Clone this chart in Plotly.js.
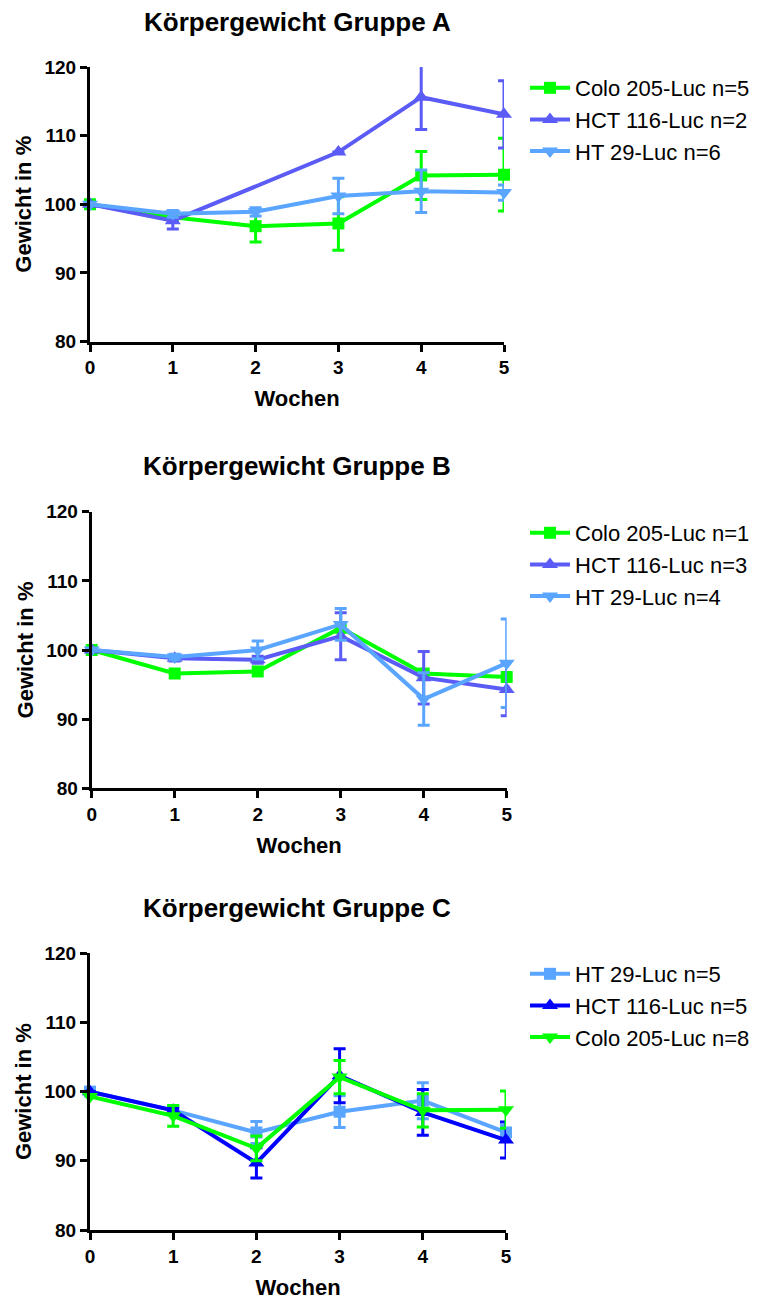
<!DOCTYPE html>
<html>
<head>
<meta charset="utf-8">
<script src="https://cdn.plot.ly/plotly-3.0.1.min.js"></script>
<style>html,body{margin:0;padding:0;background:#fff;}</style>
</head>
<body>
<div id="chart" style="width:765px;height:1300px;"></div>
<script>
const weeks = [0, 1, 2, 3, 4, 5];
const yTicks = [80, 90, 100, 110, 120];

// Gruppe A
const namesA = ['Colo 205-Luc n=5', 'HCT 116-Luc n=2', 'HT 29-Luc n=6'];
const colo205_A = [100, 98.1, 96.8, 97.2, 104.2, 104.3];
const colo205_A_err = [0, 0.5, 2.3, 3.9, 3.5, 5.3];
const hct116_A = [100, 97.6, null, 107.6, 115.6, 113.1];
const hct116_A_err = [0, 1.2, 0, 0, 4.7, 4.9];
const ht29_A = [100, 98.6, 98.9, 101.2, 101.9, 101.7];
const ht29_A_err = [0, 0.5, 0.6, 2.6, 3.1, 1.1];

// Gruppe B
const namesB = ['Colo 205-Luc n=1', 'HCT 116-Luc n=3', 'HT 29-Luc n=4'];
const colo205_B = [100, 96.6, 96.9, 103.2, 96.6, 96.1];
const hct116_B = [100, 98.8, 98.6, 102.0, 96.0, 94.3];
const hct116_B_err = [0, 0.4, 0.5, 3.4, 3.8, 3.8];
const ht29_B = [100, 99.0, 100.0, 103.7, 92.9, 98.1];
const ht29_B_err = [0, 0.4, 1.3, 2.3, 3.8, 6.4];

// Gruppe C
const namesC = ['HT 29-Luc n=5', 'HCT 116-Luc n=5', 'Colo 205-Luc n=8'];
const ht29_C = [100, 97.3, 94.1, 97.1, 98.7, 94.1];
const ht29_C_err = [0, 0.5, 1.6, 2.3, 2.6, 1.0];
const hct116_C = [100, 97.3, 89.7, 102.3, 97.0, 93.0];
const hct116_C_err = [0, 0.3, 2.2, 3.9, 3.3, 2.6];
const colo205_C = [99.3, 96.5, 91.8, 102.1, 97.3, 97.4];
const colo205_C_err = [0, 1.5, 1.8, 2.4, 2.4, 2.7];

const GREEN = '#00ff00', PURPLE = '#5b5bf5', LIGHTBLUE = '#5aa5ff', BLUE = '#0000ff';
const FONT = 'Liberation Sans, Arial, sans-serif';

function tr(y, err, name, color, symbol, ax, legend) {
  const t = {
    x: weeks, y: y, name: name, type: 'scatter', mode: 'lines+markers',
    connectgaps: true, cliponaxis: false,
    line: {color: color, width: 4},
    marker: {color: color, symbol: symbol, size: symbol === 'square' ? 12 : 14},
    xaxis: 'x' + ax, yaxis: 'y' + ax, legend: legend
  };
  if (err) t.error_y = {type: 'data', array: err, visible: true, color: color, thickness: 3, width: 6};
  return t;
}

const data = [
  tr(colo205_A, colo205_A_err, namesA[0], GREEN, 'square', '', 'legend'),
  tr(hct116_A, hct116_A_err, namesA[1], PURPLE, 'triangle-up', '', 'legend'),
  tr(ht29_A, ht29_A_err, namesA[2], LIGHTBLUE, 'triangle-down', '', 'legend'),
  tr(colo205_B, null, namesB[0], GREEN, 'square', '2', 'legend2'),
  tr(hct116_B, hct116_B_err, namesB[1], PURPLE, 'triangle-up', '2', 'legend2'),
  tr(ht29_B, ht29_B_err, namesB[2], LIGHTBLUE, 'triangle-down', '2', 'legend2'),
  tr(ht29_C, ht29_C_err, namesC[0], LIGHTBLUE, 'square', '3', 'legend3'),
  tr(hct116_C, hct116_C_err, namesC[1], BLUE, 'triangle-up', '3', 'legend3'),
  tr(colo205_C, colo205_C_err, namesC[2], GREEN, 'triangle-down', '3', 'legend3')
];

const W = 765, H = 1300;
const ML = 88, MR = 257, PW = W - ML - MR;
function xax(l, r, anchor) {
  return {
    domain: [(l - ML) / PW, (r - ML) / PW], range: [0, 5], anchor: anchor,
    tickmode: 'array', tickvals: weeks, ticktext: weeks.map(String),
    showline: true, linecolor: '#000', linewidth: 3, mirror: false,
    ticks: 'outside', ticklen: 7, tickwidth: 3, tickcolor: '#000',
    showgrid: false, zeroline: false, automargin: false,
    tickfont: {family: FONT, size: 19, color: '#000', weight: 'bold'},
    title: {text: 'Wochen', font: {family: FONT, size: 22, color: '#000', weight: 'bold'}, standoff: 14}
  };
}
function yax(top, bottom, anchor) {
  return {
    domain: [1 - bottom / H, 1 - top / H], range: [80, 120], anchor: anchor,
    tickmode: 'array', tickvals: yTicks,
    showline: true, linecolor: '#000', linewidth: 3,
    ticks: 'outside', ticklen: 7, tickwidth: 3, tickcolor: '#000',
    showgrid: false, zeroline: false, automargin: false,
    tickfont: {family: FONT, size: 19, color: '#000', weight: 'bold'},
    title: {text: 'Gewicht in %', font: {family: FONT, size: 22, color: '#000', weight: 'bold'}, standoff: 7}
  };
}
function leg(top) {
  return {x: (525 - ML) / PW, xanchor: 'left', y: 1 - top / H, yanchor: 'top',
    font: {family: FONT, size: 22, color: '#000'}, bgcolor: 'rgba(0,0,0,0)', borderwidth: 0,
    itemwidth: 40, tracegroupgap: 0};
}
function ttl(text, y) {
  return {text: text, xref: 'paper', yref: 'paper', x: (297 - ML) / PW, y: 1 - y / H,
    xanchor: 'center', yanchor: 'middle', showarrow: false,
    font: {family: FONT, size: 26, color: '#000', weight: 'bold'}};
}

const layout = {
  width: W, height: H,
  margin: {l: ML, r: MR, t: 0, b: 0},
  paper_bgcolor: '#fff', plot_bgcolor: '#fff',
  showlegend: true,
  xaxis: xax(90, 504, 'y'), yaxis: yax(67, 341.5, 'x'),
  xaxis2: xax(91.7, 506.7, 'y2'), yaxis2: yax(511.7, 788.3, 'x2'),
  xaxis3: xax(90, 506, 'y3'), yaxis3: yax(953.3, 1230, 'x3'),
  legend: leg(67), legend2: leg(512), legend3: leg(953),
  annotations: [
    ttl('Körpergewicht Gruppe A', 22),
    ttl('Körpergewicht Gruppe B', 466),
    ttl('Körpergewicht Gruppe C', 908)
  ]
};

Plotly.newPlot('chart', data, layout, {displayModeBar: false, staticPlot: true});
</script>
</body>
</html>
